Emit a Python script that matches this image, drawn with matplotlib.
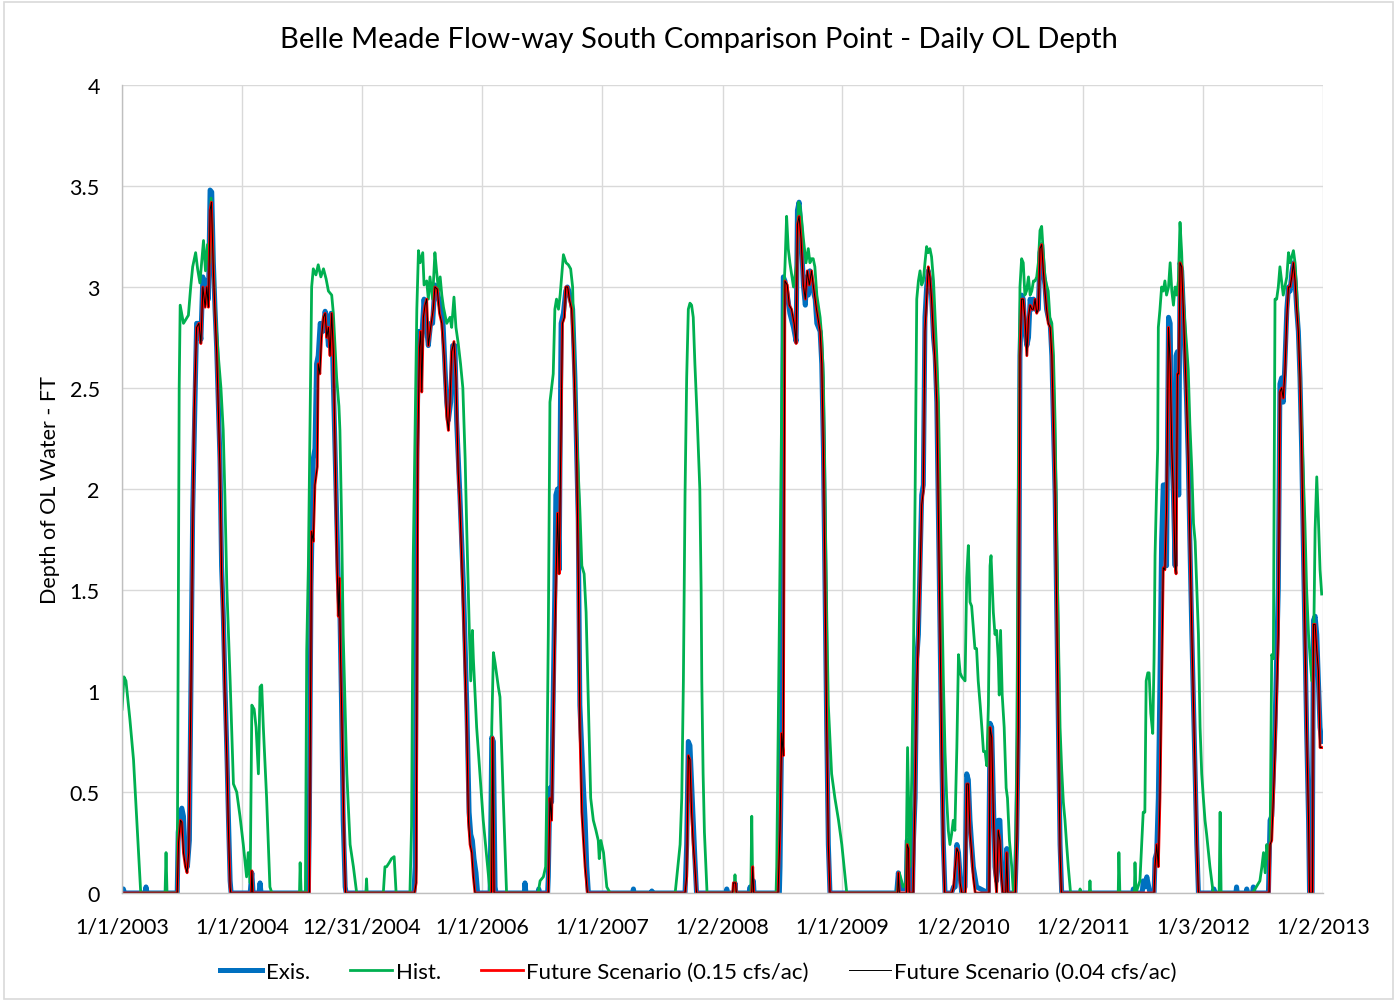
import datetime as dt
import matplotlib
matplotlib.use("Agg")
import matplotlib.pyplot as plt
from matplotlib.patches import Rectangle

plt.rcParams['font.family'] = ['Lato', 'DejaVu Sans']

# x values: days since 1/1/2003
hist_days = [0, 6, 12, 24, 35, 45, 57, 131, 134, 137, 168, 171, 174, 177, 187, 202, 209, 215, 224, 230, 237, 248, 254, 260, 266, 271,
             283, 293, 301, 308, 313, 319, 329, 339, 349, 359, 369, 379, 384, 390, 395, 402, 408, 415, 420, 425, 430, 440, 450, 456,
             540, 542, 545, 558, 562, 567, 577, 582, 590, 597, 605, 613, 621, 628, 638, 643, 653, 660, 663, 668, 673, 684, 694, 704, 714,
             742, 744, 746, 795, 800, 805, 813, 820, 828, 834,
             876, 881, 886, 897, 902, 907, 915, 919, 927, 932, 937, 945, 952, 957, 963, 968, 973, 978, 988, 998, 1003, 1010, 1016, 1023,
             1030, 1037, 1044, 1049, 1057, 1061, 1066, 1069, 1079, 1089, 1099, 1110, 1120, 1125, 1130, 1135, 1145, 1150, 1160, 1170,
             1266, 1272, 1282, 1289, 1292, 1297, 1302, 1307, 1312, 1317, 1322, 1328, 1333, 1343, 1351, 1358, 1365, 1371, 1378, 1385,
             1393, 1399, 1406, 1412, 1419, 1426, 1434, 1442, 1449, 1452, 1457, 1465, 1475, 1485,
             1683, 1698, 1703, 1708, 1713, 1718, 1723, 1728, 1733, 1738, 1743, 1750, 1758, 1762, 1764, 1768, 1772, 1780,
             1862, 1865, 1868, 1913, 1916, 1919, 1990, 1992, 2002, 2010, 2017, 2022, 2027, 2032, 2043, 2053, 2058, 2063, 2068, 2073,
             2081, 2088, 2093, 2098, 2103, 2108, 2114, 2124, 2129, 2134, 2139, 2144, 2149, 2159, 2169, 2180, 2190, 2205,
             2357, 2365, 2377, 2385, 2390, 2397, 2403, 2408, 2413, 2418, 2423, 2428, 2433, 2438, 2443, 2448, 2453, 2458, 2463, 2469,
             2474, 2479, 2484, 2489, 2494, 2499, 2504, 2509, 2514, 2519, 2524, 2529, 2534, 2540, 2545, 2550, 2555, 2565, 2570, 2575,
             2580, 2585, 2595, 2600, 2605, 2611, 2616, 2621, 2626, 2631, 2636, 2641, 2644, 2648, 2651, 2656, 2661, 2666, 2669, 2673,
             2678, 2684, 2690, 2694, 2700, 2707, 2712, 2717, 2722, 2727, 2732, 2737, 2742, 2747, 2752, 2758, 2763, 2768, 2773, 2778,
             2783, 2788, 2793, 2798, 2803, 2808, 2813, 2818, 2823, 2829, 2834, 2839, 2844, 2849, 2854, 2859, 2864, 2869, 2874, 2879,
             2886, 2913, 2915, 2917, 2943, 2945, 2947,
             3031, 3033, 3036, 3080, 3082, 3085, 3097, 3107, 3112, 3116, 3121, 3125, 3130, 3136, 3140, 3143, 3148, 3151, 3153, 3158,
             3163, 3168, 3173, 3178, 3184, 3189, 3194, 3199, 3204, 3209, 3214, 3219, 3224, 3229, 3234, 3239, 3244, 3249, 3255, 3260,
             3265, 3270, 3275, 3280, 3285, 3290, 3295, 3300, 3310, 3320, 3338, 3341, 3344, 3440, 3462, 3468, 3473, 3478, 3483, 3488,
             3493, 3498, 3503, 3508, 3513, 3518, 3523, 3528, 3533, 3538, 3544, 3549, 3554, 3559, 3564, 3569, 3574, 3579, 3584, 3589,
             3594, 3599, 3604, 3610, 3615, 3620, 3625, 3630, 3635, 3640, 3645, 3650]
hist_vals = [0.91, 1.07, 1.05, 0.86, 0.66, 0.36, 0.0, 0.0, 0.2, 0.0, 0.0, 1.2, 2.5, 2.91, 2.82, 2.86, 3.0, 3.1, 3.17, 3.09, 3.02, 3.23, 3.08, 3.21, 3.12, 3.44,
             2.89, 2.66, 2.5, 2.29, 1.97, 1.51, 1.05, 0.54, 0.5, 0.38, 0.24, 0.08, 0.2, 0.05, 0.93, 0.91, 0.82, 0.59, 1.02, 1.03, 0.82, 0.47, 0.03, 0.0,
             0.0, 0.15, 0.0, 0.0, 1.2, 1.62, 3.0, 3.09, 3.06, 3.11, 3.05, 3.09, 3.04, 2.98, 2.96, 2.87, 2.55, 2.41, 2.29, 1.85, 1.28, 0.59, 0.24, 0.13, 0.0,
             0.0, 0.07, 0.0, 0.0, 0.13, 0.13, 0.15, 0.17, 0.18, 0.0,
             0.0, 0.33, 1.65, 2.89, 3.18, 3.12, 3.17, 3.01, 3.03, 2.94, 3.05, 2.94, 3.17, 3.08, 2.98, 3.05, 2.96, 2.9, 2.82, 2.85, 2.8, 2.95, 2.8, 2.72,
             2.62, 2.5, 2.15, 1.79, 1.28, 1.05, 1.3, 1.16, 0.82, 0.59, 0.36, 0.17, 0.0, 0.82, 1.19, 1.14, 1.02, 0.97, 0.47, 0.0,
             0.0, 0.06, 0.08, 0.13, 0.47, 1.28, 2.43, 2.5, 2.57, 2.89, 2.94, 2.89, 2.96, 3.16, 3.12, 3.11, 3.09, 3.0, 2.55, 2.2,
             1.9, 1.62, 1.58, 1.39, 0.93, 0.47, 0.36, 0.31, 0.26, 0.17, 0.26, 0.2, 0.03, 0.0,
             0.0, 0.24, 0.47, 1.05, 1.97, 2.55, 2.89, 2.92, 2.91, 2.85, 2.62, 2.35, 2.0, 1.5, 1.05, 0.59, 0.3, 0.0,
             0.0, 0.09, 0.0, 0.0, 0.38, 0.0, 0.0, 0.13, 1.62, 2.85, 3.1, 3.35, 3.19, 3.12, 3.0, 3.12, 3.42, 3.4, 3.33, 3.24,
             3.12, 3.19, 3.12, 3.14, 3.14, 3.1, 2.96, 2.85, 2.75, 2.55, 1.97, 1.39, 0.93, 0.59, 0.47, 0.36, 0.24, 0.0,
             0.0, 0.1, 0.03, 0.05, 0.72, 0.13, 0.59, 1.19, 1.97, 2.94, 3.03, 3.08, 3.01, 3.03, 3.12, 3.2, 3.17, 3.19, 3.15, 3.03,
             2.85, 2.66, 2.43, 1.97, 1.51, 1.05, 0.7, 0.47, 0.31, 0.24, 0.29, 0.36, 0.31, 0.72, 1.18, 1.09, 1.07, 1.05, 1.56, 1.72,
             1.44, 1.42, 1.21, 1.21, 1.05, 0.93, 0.82, 0.7, 0.7, 0.63, 0.93, 1.62, 1.67, 1.51, 1.39, 1.28, 1.3, 1.16, 0.98, 1.3,
             0.98, 0.82, 0.52, 0.47, 0.26, 0.13, 0.0, 0.02, 0.59, 1.97, 3.0, 3.14, 3.12, 2.96, 2.98, 3.05, 2.96, 2.98, 3.03, 3.03,
             3.05, 3.12, 3.28, 3.3, 3.17, 3.05, 3.01, 2.98, 2.85, 2.82, 2.66, 2.32, 1.74, 1.28, 0.82, 0.61, 0.45, 0.36, 0.24, 0.13,
             0.0, 0.0, 0.02, 0.0, 0.0, 0.06, 0.0,
             0.0, 0.2, 0.0, 0.0, 0.15, 0.0, 0.06, 0.4, 0.4, 1.05, 1.09, 1.09, 0.89, 0.79, 1.16, 1.67, 2.02, 2.2, 2.8, 2.89,
             3.0, 2.98, 3.03, 2.96, 3.0, 3.12, 2.98, 2.91, 3.0, 2.96, 3.03, 3.32, 3.17, 2.94, 2.82, 2.71, 2.59, 2.32, 2.09, 1.83,
             1.74, 1.51, 1.28, 0.82, 0.59, 0.47, 0.36, 0.29, 0.13, 0.0, 0.0, 0.4, 0.0, 0.0, 0.06, 0.13, 0.2, 0.1, 0.24, 0.17,
             0.24, 1.18, 1.16, 2.94, 2.94, 3.0, 3.1, 3.03, 2.96, 3.0, 3.05, 3.17, 3.12, 3.15, 3.18, 3.12, 2.98, 2.8, 2.55, 2.32,
             2.08, 1.83, 1.51, 1.28, 1.16, 1.05, 1.16, 1.8, 2.06, 1.85, 1.6, 1.48]

exis_days = [0, 4, 8, 70, 73, 76, 168, 171, 177, 182, 187, 192, 199, 205, 209, 215, 222, 227, 234, 240, 246, 253, 258, 263, 268, 273,
             278, 283, 288, 293, 298, 303, 308, 313, 319, 324, 329, 332, 390, 395, 399, 417, 420, 423,
             567, 570, 575, 582, 587, 592, 597, 603, 611, 618, 623, 628, 636, 641, 648, 653, 658, 663, 668, 673, 679, 682,
             888, 892, 897, 902, 912, 919, 925, 932, 939, 945, 952, 960, 968, 976, 983, 988, 993, 1000, 1006, 1013, 1018, 1023, 1028,
             1039, 1049, 1056, 1061, 1066, 1071, 1077, 1082, 1120, 1125, 1130, 1135, 1138,
             1224, 1226, 1229, 1266, 1268, 1270, 1295, 1297, 1302, 1307, 1312, 1317, 1320, 1325, 1330, 1336, 1343, 1350, 1355, 1360,
             1365, 1371, 1378, 1383, 1388, 1393, 1399, 1404, 1409, 1414, 1419, 1553, 1556, 1558, 1610, 1612, 1614,
             1713, 1718, 1723, 1728, 1733, 1738, 1743, 1748,
             1838, 1840, 1842, 1863, 1865, 1867, 1908, 1911, 1913, 1919, 1921, 1923,
             2000, 2002, 2007, 2012, 2017, 2024, 2032, 2043, 2051, 2055, 2060, 2066, 2073, 2079, 2083, 2088, 2093, 2098, 2103, 2109,
             2114, 2119, 2124, 2129, 2134, 2139, 2144, 2149, 2154,
             2357, 2362, 2367, 2386, 2389, 2393, 2395, 2405, 2408, 2413, 2418, 2423, 2428, 2433, 2438, 2443, 2448, 2453, 2458, 2463,
             2469, 2474, 2479, 2484, 2489, 2494, 2499, 2504, 2524, 2530, 2535, 2540, 2545, 2550, 2555, 2565, 2570, 2575, 2580, 2585,
             2590, 2595, 2600, 2636, 2641, 2646, 2651, 2656, 2661, 2666, 2671, 2676, 2682, 2688, 2692, 2695,
             2717, 2722, 2727, 2732, 2737, 2742, 2747, 2753, 2758, 2763, 2768, 2773, 2778, 2783, 2788, 2793, 2798, 2803, 2808, 2813,
             2818, 2824, 2829, 2834, 2839, 2844, 2849, 2854, 2859,
             3075, 3077, 3079, 3104, 3107, 3112, 3118, 3125, 3128,
             3140, 3143, 3148, 3153, 3158, 3163, 3168, 3173, 3178, 3184, 3189, 3194, 3199, 3204, 3207, 3211, 3215, 3219, 3224, 3229,
             3234, 3239, 3244, 3249, 3255, 3260, 3265, 3270, 3275,
             3320, 3322, 3324, 3389, 3391, 3393, 3420, 3422, 3424, 3440, 3442, 3444,
             3488, 3493, 3498, 3503, 3508, 3513, 3518, 3523, 3528, 3533, 3538, 3544, 3549, 3554, 3559, 3564, 3569, 3574, 3579, 3584,
             3589, 3594, 3599, 3604, 3610, 3613, 3621, 3625, 3630, 3635, 3640, 3645, 3650]
exis_vals = [0.02, 0.02, 0.0, 0.0, 0.03, 0.0, 0.0, 0.3, 0.4, 0.42, 0.38, 0.2, 0.13, 0.26, 0.93, 1.88, 2.43, 2.82, 2.82, 2.74, 3.05, 2.94, 3.03, 2.94, 3.48, 3.47,
             3.12, 2.89, 2.7, 2.43, 2.15, 1.62, 1.39, 1.05, 0.7, 0.36, 0.06, 0.0, 0.0, 0.1, 0.0, 0.0, 0.05, 0.0,
             0.0, 0.36, 1.51, 2.15, 2.2, 2.62, 2.66, 2.82, 2.78, 2.88, 2.82, 2.71, 2.87, 2.66, 2.2, 1.85, 1.55, 1.39, 0.93, 0.36, 0.03, 0.0,
             0.0, 0.13, 2.15, 2.78, 2.75, 2.94, 2.82, 2.71, 2.82, 2.82, 3.01, 2.97, 2.91, 2.85, 2.59, 2.43, 2.34, 2.43, 2.71, 2.71, 2.34, 2.15, 1.97,
             1.51, 0.93, 0.4, 0.29, 0.26, 0.17, 0.1, 0.0, 0.0, 0.77, 0.75, 0.03, 0.0,
             0.0, 0.05, 0.0, 0.0, 0.02, 0.0, 0.0, 0.08, 0.52, 0.45, 0.98, 1.51, 1.97, 2.0, 1.6, 2.82, 2.87, 2.98, 3.0, 2.98,
             2.94, 2.89, 2.55, 2.2, 1.85, 0.93, 0.7, 0.52, 0.36, 0.13, 0.0, 0.0, 0.02, 0.0, 0.0, 0.01, 0.0,
             0.0, 0.24, 0.75, 0.73, 0.54, 0.36, 0.17, 0.0,
             0.0, 0.02, 0.0, 0.0, 0.05, 0.0, 0.0, 0.03, 0.0, 0.0, 0.06, 0.0,
             0.0, 0.13, 0.82, 3.05, 3.03, 2.96, 2.87, 2.8, 2.73, 3.38, 3.42, 3.28, 3.01, 2.91, 3.05, 2.96, 3.08, 3.03, 2.98, 2.94,
             2.82, 2.8, 2.78, 2.62, 2.2, 1.51, 0.82, 0.24, 0.0,
             0.0, 0.1, 0.02, 0.02, 0.26, 0.26, 0.0, 0.0, 0.26, 0.47, 1.16, 1.28, 1.62, 1.97, 2.02, 2.85, 3.0, 3.08, 3.03, 2.96,
             2.75, 2.66, 2.43, 1.85, 1.28, 0.7, 0.24, 0.0, 0.0, 0.03, 0.03, 0.24, 0.2, 0.08, 0.0, 0.03, 0.59, 0.56, 0.36, 0.24,
             0.13, 0.08, 0.03, 0.0, 0.84, 0.82, 0.47, 0.13, 0.06, 0.36, 0.36, 0.13, 0.0, 0.0, 0.22, 0.0,
             0.0, 0.26, 0.82, 2.66, 2.96, 2.94, 2.78, 2.71, 2.75, 2.94, 2.89, 2.94, 2.89, 2.89, 2.89, 3.17, 3.21, 3.08, 3.01, 2.89,
             2.85, 2.82, 2.66, 2.32, 1.97, 1.39, 0.82, 0.24, 0.0,
             0.0, 0.02, 0.0, 0.0, 0.06, 0.03, 0.08, 0.02, 0.0,
             0.0, 0.17, 0.2, 0.47, 1.05, 1.74, 2.02, 2.02, 1.62, 2.85, 2.82, 2.2, 1.97, 1.62, 2.66, 2.68, 1.97, 3.12, 3.08, 2.89,
             2.66, 2.43, 2.15, 1.74, 1.28, 0.93, 0.59, 0.24, 0.0,
             0.0, 0.02, 0.0, 0.0, 0.03, 0.0, 0.0, 0.02, 0.0, 0.0, 0.03, 0.0,
             0.0, 0.36, 0.38, 0.59, 0.82, 1.16, 1.51, 2.52, 2.55, 2.43, 2.62, 2.89, 3.0, 2.98, 3.07, 3.12, 3.03, 2.89, 2.78, 2.55,
             2.2, 1.74, 1.28, 0.82, 0.36, 0.0, 0.0, 1.35, 1.37, 1.28, 1.05, 0.82, 0.75]

fut015_days = [0, 168, 172, 178, 182, 187, 193, 198, 203, 209, 215, 220, 227, 234, 240, 246, 253, 258, 263, 268, 272, 278, 283, 288,
               293, 298, 303, 308, 313, 319, 324, 329, 331, 393, 395, 398,
               570, 577, 582, 587, 594, 597, 602, 607, 613, 618, 623, 628, 633, 638, 643, 648, 653, 658, 661, 665, 671, 676, 680,
               890, 895, 900, 905, 909, 912, 917, 922, 927, 932, 939, 947, 952, 959, 966, 973, 980, 988, 993, 998, 1003, 1010, 1016,
               1023, 1028, 1039, 1049, 1054, 1059, 1064, 1069, 1074, 1124, 1128, 1132,
               1297, 1302, 1307, 1312, 1317, 1325, 1330, 1335, 1340, 1346, 1350, 1356, 1361, 1368, 1373, 1383, 1388, 1393, 1399, 1404,
               1409, 1416, 1713, 1718, 1723, 1728, 1733, 1738, 1743, 1748,
               1858, 1860, 1867, 1869, 1916, 1919, 1922,
               1996, 2002, 2007, 2012, 2017, 2024, 2030, 2037, 2045, 2051, 2055, 2060, 2066, 2073, 2079, 2085, 2091, 2098, 2103, 2113,
               2124, 2129, 2134, 2139, 2144, 2149, 2154,
               2360, 2362, 2365, 2387, 2389, 2393, 2395, 2407, 2413, 2418, 2423, 2428, 2433, 2438, 2443, 2448, 2453, 2458, 2463, 2469,
               2474, 2479, 2484, 2489, 2494, 2499, 2503, 2525, 2530, 2540, 2545, 2550, 2555, 2566, 2570, 2575, 2580, 2585, 2590, 2596,
               2638, 2641, 2646, 2651, 2656, 2661, 2666, 2671, 2676, 2680, 2689, 2692, 2695,
               2718, 2723, 2727, 2732, 2737, 2742, 2747, 2753, 2758, 2763, 2768, 2773, 2778, 2783, 2788, 2793, 2798, 2803, 2808, 2813,
               2818, 2824, 2829, 2834, 2839, 2844, 2849, 2854, 2858,
               3140, 3143, 3148, 3153, 3158, 3163, 3168, 3173, 3178, 3184, 3189, 3194, 3199, 3204, 3207, 3211, 3215, 3219, 3224, 3229,
               3234, 3239, 3244, 3249, 3255, 3260, 3265, 3270, 3275,
               3490, 3493, 3498, 3503, 3508, 3513, 3518, 3523, 3528, 3533, 3538, 3544, 3549, 3554, 3559, 3564, 3569, 3574, 3579, 3584,
               3589, 3594, 3599, 3604, 3610, 3613, 3622, 3625, 3630, 3635, 3640, 3645, 3650]
fut015_vals = [0.0, 0.0, 0.25, 0.36, 0.35, 0.2, 0.13, 0.1, 0.2, 0.89, 1.8, 2.4, 2.8, 2.82, 2.72, 3.0, 2.9, 3.0, 2.9, 3.38, 3.42, 3.08, 2.87, 2.68,
               2.4, 2.1, 1.58, 1.35, 1.0, 0.66, 0.3, 0.03, 0.0, 0.0, 0.11, 0.0,
               0.0, 1.79, 1.74, 2.02, 2.11, 2.62, 2.57, 2.75, 2.85, 2.87, 2.75, 2.8, 2.66, 2.87, 2.68, 2.22, 1.74, 1.37, 1.56, 1.16, 0.7, 0.24, 0.0,
               0.0, 0.05, 2.2, 2.7, 2.78, 2.48, 2.85, 2.91, 2.94, 2.71, 2.8, 2.89, 3.0, 2.99, 2.87, 2.82, 2.66, 2.36, 2.29, 2.43, 2.68, 2.73, 2.55,
               2.08, 1.92, 1.39, 0.82, 0.36, 0.24, 0.2, 0.08, 0.0, 0.0, 0.77, 0.0,
               0.0, 0.47, 0.36, 0.82, 1.28, 1.88, 1.58, 2.2, 2.82, 2.85, 3.0, 3.0, 2.94, 2.89, 2.71, 2.2, 1.62, 0.82, 0.4, 0.26,
               0.13, 0.0, 0.0, 0.08, 0.68, 0.66, 0.4, 0.24, 0.13, 0.0,
               0.0, 0.05, 0.05, 0.0, 0.0, 0.13, 0.0,
               0.0, 0.31, 0.79, 0.68, 3.03, 3.01, 2.91, 2.89, 2.82, 2.72, 3.31, 3.35, 3.24, 3.01, 2.94, 3.08, 3.01, 3.08, 3.01, 2.89,
               2.78, 2.62, 2.2, 1.51, 0.82, 0.24, 0.0,
               0.0, 0.1, 0.0, 0.0, 0.24, 0.22, 0.0, 0.0, 0.5, 1.02, 1.28, 1.56, 1.92, 1.99, 2.78, 2.94, 3.1, 3.05, 2.94, 2.75,
               2.62, 2.43, 1.85, 1.28, 0.7, 0.2, 0.0, 0.0, 0.03, 0.22, 0.2, 0.05, 0.0, 0.0, 0.54, 0.54, 0.3, 0.2, 0.08, 0.0,
               0.0, 0.82, 0.77, 0.4, 0.1, 0.0, 0.31, 0.26, 0.08, 0.0, 0.0, 0.2, 0.0,
               0.0, 0.3, 0.8, 2.66, 2.94, 2.94, 2.85, 2.66, 2.85, 2.91, 2.89, 2.89, 2.94, 2.87, 2.89, 3.19, 3.21, 3.08, 2.98, 2.89,
               2.82, 2.8, 2.66, 2.32, 1.97, 1.39, 0.8, 0.2, 0.0,
               0.0, 0.13, 0.24, 0.13, 0.47, 1.05, 1.61, 1.6, 1.9, 2.8, 2.62, 2.2, 1.97, 1.62, 1.58, 2.57, 2.57, 3.12, 3.1, 2.89,
               2.66, 2.43, 2.15, 1.74, 1.28, 0.93, 0.59, 0.24, 0.0,
               0.0, 0.24, 0.26, 0.47, 0.7, 0.98, 1.28, 2.48, 2.5, 2.45, 2.57, 2.85, 3.0, 3.0, 3.05, 3.12, 3.03, 2.89, 2.78, 2.55,
               2.2, 1.74, 1.28, 0.82, 0.36, 0.0, 0.0, 1.33, 1.33, 1.2, 1.1, 0.72, 0.72]

# Future scenario 0.04 cfs/ac tracks the 0.15 scenario within the drawn line width
fut004_days = fut015_days
fut004_vals = fut015_vals

tick_dates = ["1/1/2003", "1/1/2004", "12/31/2004", "1/1/2006", "1/1/2007", "1/2/2008",
              "1/1/2009", "1/2/2010", "1/2/2011", "1/3/2012", "1/2/2013"]
y_ticks = [0, 0.5, 1, 1.5, 2, 2.5, 3, 3.5, 4]

title = "Belle Meade Flow-way South Comparison Point - Daily OL Depth"
y_label = "Depth of OL Water - FT"
series_names = ["Exis.", "Hist.", "Future Scenario (0.15 cfs/ac)", "Future Scenario (0.04 cfs/ac)"]

start = dt.date(2003, 1, 1)
def to_day(s):
    m, d, y = (int(p) for p in s.split("/"))
    return (dt.date(y, m, d) - start).days
tick_pos = [to_day(s) for s in tick_dates]

fig = plt.figure(figsize=(13.97, 10.03), dpi=100)
ax = fig.add_axes([122/1397, 1 - 894/1003, (1323-122)/1397, (894-86)/1003])

ax.plot(exis_days, exis_vals, color="#0070C0", lw=3.6, label=series_names[0], solid_joinstyle="round")
ax.plot(hist_days, hist_vals, color="#00B050", lw=2.0, label=series_names[1])
ax.plot(fut015_days, fut015_vals, color="#FF0000", lw=2.0, label=series_names[2])
ax.plot(fut004_days, fut004_vals, color="#000000", lw=0.7, label=series_names[3])

ax.set_xlim(tick_pos[0], tick_pos[-1])
ax.set_ylim(0, 4)
ax.set_xticks(tick_pos)
ax.set_xticklabels(tick_dates)
ax.set_yticks(y_ticks)
ax.set_yticklabels([f"{v:g}" for v in y_ticks])
ax.tick_params(length=0, labelsize=15.5, colors="#000000")
ax.tick_params(axis="x", pad=17)
ax.tick_params(axis="y", pad=16)
ax.grid(True, color="#D9D9D9", lw=1.0)
ax.set_axisbelow(True)
for s in ["top", "right"]:
    ax.spines[s].set_visible(False)
for s in ["left", "bottom"]:
    ax.spines[s].set_color("#BFBFBF")
    ax.spines[s].set_linewidth(1.0)
ax.set_ylabel(y_label, fontsize=15.5, labelpad=7)

fig.text(0.5, 1 - 40/1003, title, ha="center", va="center", fontsize=21)

fig.legend(loc="center", bbox_to_anchor=(0.5, 1 - 973/1003), ncol=4, frameon=False, fontsize=16,
           handlelength=1.9, handletextpad=0.15, columnspacing=1.8)

fig.patches.append(Rectangle((0.003, 0.003), 0.994, 0.994, transform=fig.transFigure,
                             fill=False, edgecolor="#D9D9D9", lw=1.2))

fig.savefig("out.png", dpi=100)
